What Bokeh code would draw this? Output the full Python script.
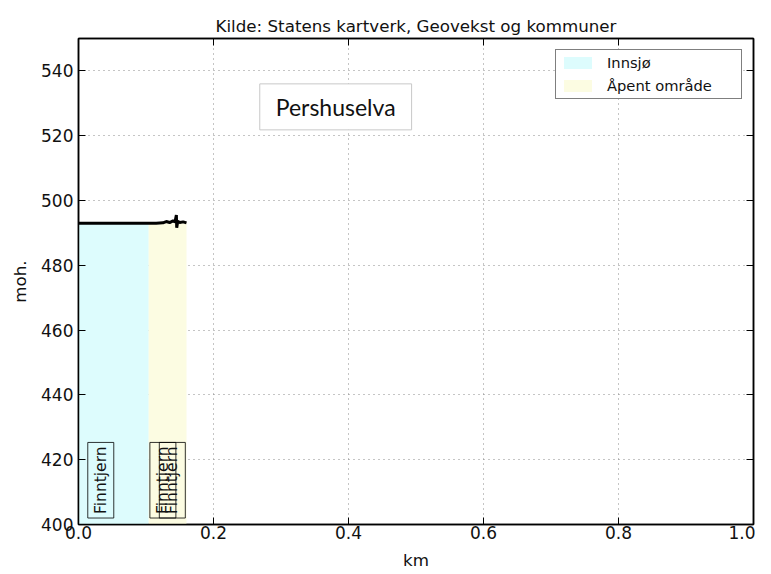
import math
from bokeh.plotting import figure
from bokeh.models import (ColumnDataSource, FixedTicker, PrintfTickFormatter, LinearAxis,
                          CustomJSTickFormatter, Label, Legend, LegendItem, Range1d)
from bokeh.core.properties import value
from bokeh.embed import file_html
from bokeh.resources import INLINE

# ---- data ----
title_text = "Kilde: Statens kartverk, Geovekst og kommuner"
river_name = "Pershuselva"

distance_km = [0.0, 0.02, 0.04, 0.06, 0.08, 0.10, 0.115, 0.125, 0.13, 0.135, 0.14, 0.143,
               0.145, 0.1455, 0.147, 0.15, 0.155, 0.16]
elevation_m = [493.0, 493.0, 493.0, 493.0, 493.0, 493.0, 493.0, 493.1, 493.5, 493.2, 493.7,
               493.4, 495.5, 491.6, 493.6, 493.2, 493.4, 493.1]

area_types = ["Innsjø", "Åpent område"]
area_start = [0.0, 0.104]
area_end = [0.104, 0.160]
area_top = [493.0, 493.0]
area_colors = ["#ddfcfd", "#fcfce2"]

place_names = ["Finntjern", "Finntjern", "Finntjern"]
place_x = [0.033, 0.125, 0.139]
place_y = [402.0, 402.0, 402.0]

x_ticks = [0.0, 0.2, 0.4, 0.6, 0.8, 1.0]
y_ticks = [400, 420, 440, 460, 480, 500, 520, 540]

FONT = "DejaVu Sans"
INK = "#111111"

p = figure(width=755, height=572, output_backend="svg", toolbar_location=None,
           x_range=Range1d(0, 1), y_range=Range1d(400, 550),
           min_border_left=78, min_border_right=2, min_border_top=38, min_border_bottom=45)

p.title.text = title_text
p.title.align = "center"
p.title.text_font = FONT
p.title.text_font_size = "16.7px"
p.title.text_font_style = "normal"
p.title.text_color = INK
p.title.standoff = 6

area_src = ColumnDataSource(dict(left=area_start, right=area_end, top=area_top,
                                 bottom=[400.0] * len(area_start), color=area_colors,
                                 label=area_types))
r_area = p.quad(left="left", right="right", top="top", bottom="bottom", color="color",
                line_color=None, source=area_src)

# profile
p.line(distance_km, elevation_m, line_color="black", line_width=3)

xax = p.xaxis[0]
yax = p.yaxis[0]

# mirror axes (ticks only) on top and right
top_ax = LinearAxis(ticker=FixedTicker(ticks=x_ticks),
                    formatter=CustomJSTickFormatter(code="return ''"))
right_ax = LinearAxis(ticker=FixedTicker(ticks=y_ticks),
                      formatter=CustomJSTickFormatter(code="return ''"))
p.add_layout(top_ax, "above")
p.add_layout(right_ax, "right")

for ax in [xax, yax, top_ax, right_ax]:
    ax.major_tick_in = 7
    ax.major_tick_out = 0
    ax.minor_tick_in = 0
    ax.minor_tick_out = 0
    ax.major_label_text_font = FONT
    ax.major_label_text_font_size = "17px"
    ax.major_label_text_color = INK
    ax.axis_label_text_font = FONT
    ax.axis_label_text_font_size = "16.7px"
    ax.axis_label_text_font_style = "normal"
    ax.axis_label_text_color = INK
    ax.axis_line_width = 1.5
    ax.axis_line_color = "black"
    ax.major_tick_line_color = "black"
    ax.major_tick_line_width = 1
for ax in [top_ax, right_ax]:
    ax.major_label_standoff = 0

xax.ticker = FixedTicker(ticks=x_ticks)
yax.ticker = FixedTicker(ticks=y_ticks)
xax.formatter = PrintfTickFormatter(format="%.1f")
xax.axis_label = "km"
yax.axis_label = "moh."
xax.axis_label_standoff = 8
yax.axis_label_standoff = 8
xax.major_label_standoff = 1
yax.major_label_standoff = 5

p.outline_line_color = "black"
p.outline_line_width = 1.5
p.outline_line_alpha = 1

p.xgrid.ticker = FixedTicker(ticks=x_ticks)
p.ygrid.ticker = FixedTicker(ticks=y_ticks)
for g in [p.xgrid[0], p.ygrid[0]]:
    g.grid_line_color = "#8a8a8a"
    g.grid_line_dash = "1 4"
    g.grid_line_width = 1

# place labels (rotated, boxed)
lab_src = ColumnDataSource(dict(x=place_x, y=place_y, name=place_names))
p.text(x="x", y="y", text="name", source=lab_src, angle=math.pi / 2,
       text_align="left", text_baseline="middle", text_font=value(FONT),
       text_font_size="15.5px", text_color=INK, border_line_color="black",
       border_line_width=1, border_line_alpha=0.8, padding=4)

# river name box
name_label = Label(x=0.381, y=528.9, text=river_name, text_font="Lato", text_font_size="23px",
                   text_color=INK, text_align="center", text_baseline="middle",
                   border_line_color="#c8c8c8", border_line_width=1, padding=(16, 9),
                   background_fill_color="white")
p.add_layout(name_label)

legend = Legend(items=[LegendItem(label=area_types[i], renderers=[r_area], index=i)
                       for i in range(len(area_types))],
                location="top_right")
legend.label_text_font = FONT
legend.label_text_font_size = "14.7px"
legend.label_text_color = INK
legend.border_line_color = "black"
legend.border_line_width = 1.5
legend.glyph_width = 35
legend.glyph_height = 15
legend.label_height = 15
legend.label_standoff = 12
legend.spacing = 6
legend.padding = 4
legend.margin = 11
legend.label_width = 130
legend.background_fill_color = "white"
legend.background_fill_alpha = 1
p.add_layout(legend)

open("out.html", "w").write(file_html(p, INLINE))
